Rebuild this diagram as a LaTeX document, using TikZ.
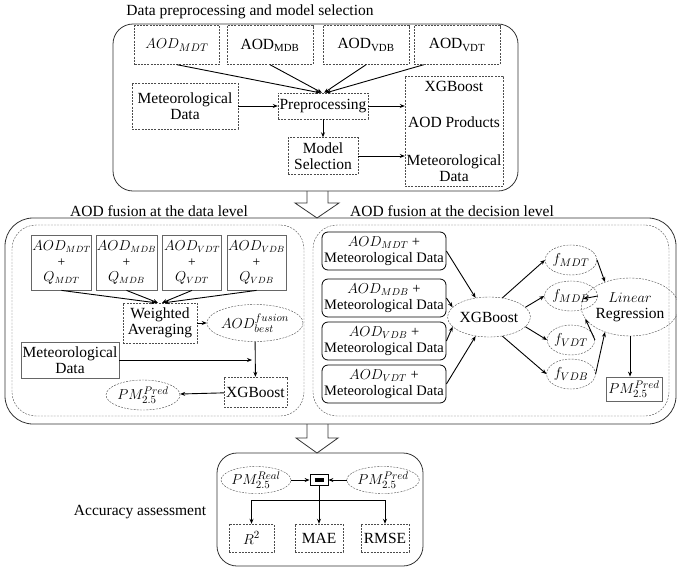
\documentclass[tikz,border=0pt]{standalone}
\usepackage{fontspec}
\setmainfont{Liberation Serif}
\usetikzlibrary{positioning, arrows.meta, shapes.geometric}

\begin{document}
\begin{tikzpicture}[
        x=1pt, y=-1pt,
        font=\fontsize{15.5}{16}\selectfont,
        dbox/.style={rectangle, draw=black!70, dash pattern=on 2pt off 1.2pt, inner sep=1pt, align=center},
        sbox/.style={rectangle, draw=black!60, line width=0.8pt, inner sep=1pt, align=center},
        rbox/.style={rectangle, draw, line width=0.8pt, rounded corners=6pt, inner sep=1pt, align=center,
            font=\fontsize{14.5}{16}\selectfont},
        qbox/.style={sbox, minimum width=59pt, minimum height=55pt, font=\fontsize{13.5}{15.5}\selectfont},
        dell/.style={ellipse, draw=black!70, dash pattern=on 2pt off 1.2pt, inner sep=0pt, align=center},
        region/.style={rectangle, draw=black!80, line width=0.8pt, rounded corners=20pt},
        subregion/.style={rectangle, draw=black!70, dash pattern=on 2pt off 1.2pt, rounded corners=24pt},
        arrow/.style={-{Stealth[length=5pt, width=4pt]}, line width=0.9pt},
        hollow/.style={draw=black!80, line width=0.8pt}
    ]
    \useasboundingbox (0,0) rectangle (677,568);

    % Data preprocessing and model selection
    \node[region, minimum width=405pt, minimum height=167pt] (prep) at (315.5,107.5) {};
    \node (prept) at (250,12) {Data preprocessing and model selection};
    \node[dbox, minimum width=85pt, minimum height=39pt] (amdt) at (177,45) {$AOD_{MDT}$};
    \node[dbox, minimum width=86pt, minimum height=39pt] (amdb) at (270,45) {AOD\textsubscript{MDB}};
    \node[dbox, minimum width=86pt, minimum height=39pt] (avdb) at (366,45) {AOD\textsubscript{VDB}};
    \node[dbox, minimum width=86pt, minimum height=39pt] (avdt) at (457,45) {AOD\textsubscript{VDT}};
    \node[dbox, minimum width=106pt, minimum height=46pt] (metp) at (185,106) {Meteorological\\Data};
    \node[dbox, minimum width=90pt, minimum height=26pt] (pre) at (323,106) {Preprocessing};
    \node[dbox, minimum width=70pt, minimum height=37pt] (msel) at (323,156) {Model\\Selection};
    \node[dbox, minimum width=98pt, minimum height=110pt] (outs) at (454,131) {};
    \node (outa) at (454,86) {XGBoost};
    \node (outb) at (454,122) {AOD Products};
    \node[align=center] (outc) at (454,168) {Meteorological\\Data};

    \draw[arrow] (amdt.south) -- ([xshift=-3pt]pre.north);
    \draw[arrow] (amdb.south) -- ([xshift=-1pt]pre.north);
    \draw[arrow] (avdb.south) -- ([xshift=1pt]pre.north);
    \draw[arrow] ([xshift=10pt]avdt.south west) -- ([xshift=3pt]pre.north);
    \draw[arrow] (metp) -- (pre);
    \draw[arrow] (pre.east) -- (pre.east -| outs.west);
    \draw[arrow] (pre) -- (msel);
    \draw[arrow] (msel.east) -- (msel.east -| outs.west);

    \draw[hollow] (307,191) -- (307,203) -- (295,203) -- (317,218) -- (339,203) -- (328,203) -- (328,191);

    % AOD fusion
    \node[region, rounded corners=28pt, minimum width=671pt, minimum height=206pt] (fus) at (340.5,321) {};
    \node[subregion, minimum width=292pt, minimum height=191pt] (dlev) at (158,320.5) {};
    \node[subregion, minimum width=356pt, minimum height=191pt] (clev) at (491,320.5) {};
    \node (dlevt) at (159,211) {AOD fusion at the data level};
    \node (clevt) at (452,211) {AOD fusion at the decision level};

    % data level
    \node[qbox] (qmdt) at (61.5,262.5) {$AOD_{MDT}$\\+\\$Q_{MDT}$};
    \node[qbox] (qmdb) at (126.5,262.5) {$AOD_{MDB}$\\+\\$Q_{MDB}$};
    \node[qbox] (qvdt) at (192,262.5) {$AOD_{VDT}$\\+\\$Q_{VDT}$};
    \node[qbox] (qvdb) at (256.5,262.5) {$AOD_{VDB}$\\+\\$Q_{VDB}$};
    \node[dbox, minimum width=74pt, minimum height=40pt] (wavg) at (160,323) {Weighted\\Averaging};
    \node[dell, minimum width=76pt, minimum height=37pt] (best) at (255,323) {$AOD_{best}^{fusion}$};
    \node[sbox, minimum width=98pt, minimum height=36pt] (metd) at (70,360) {Meteorological\\Data};
    \node[dbox, minimum width=63pt, minimum height=30pt] (xgbd) at (255.5,392) {XGBoost};
    \node[dell, minimum width=74pt, minimum height=30pt] (pmd) at (143,395) {$PM_{2.5}^{Pred}$};
    \coordinate (mj) at (best.south |- metd.east);

    \draw[arrow] (qmdt.south) -- ([xshift=-4pt]wavg.north);
    \draw[arrow] (qmdb.south) -- ([xshift=-2pt]wavg.north);
    \draw[arrow] (qvdt.south) -- ([xshift=2pt]wavg.north);
    \draw[arrow] (qvdb.south) -- ([xshift=4pt]wavg.north);
    \draw[arrow] (wavg) -- (best);
    \draw[arrow] (metd.east) -- ([xshift=-3pt]mj);
    \draw[arrow] (best) -- (xgbd);
    \draw[arrow] (xgbd) -- (pmd);

    % decision level
    \node[rbox, minimum width=124pt, minimum height=38pt] (cmdt) at (384,251) {$AOD_{MDT}$ +\\Meteorological Data};
    \node[rbox, minimum width=124pt, minimum height=38pt] (cmdb) at (384,298) {$AOD_{MDB}$ +\\Meteorological Data};
    \node[rbox, minimum width=124pt, minimum height=38pt] (cvdb) at (384,341) {$AOD_{VDB}$ +\\Meteorological Data};
    \node[rbox, minimum width=124pt, minimum height=38pt] (cvdt) at (384,384) {$AOD_{VDT}$ +\\Meteorological Data};
    \node[dell, minimum width=82pt, minimum height=40pt] (xgbc) at (489,317) {XGBoost};
    \node[dell, minimum width=42pt, minimum height=30pt] (fmdt) at (571,260) {$f_{MDT}$};
    \node[dell, minimum width=42pt, minimum height=30pt] (fmdb) at (571,296) {$f_{MDB}$};
    \node[dell, minimum width=42pt, minimum height=30pt] (fvdt) at (571,340) {$f_{VDT}$};
    \node[dell, minimum width=42pt, minimum height=30pt] (fvdb) at (571,374) {$f_{VDB}$};
    \node[dell, minimum width=78pt, minimum height=58pt] (linr) at (630,307) {$Linear$\\Regression};
    \node[sbox, minimum width=56pt, minimum height=24pt] (pmc) at (634,389) {$PM_{2.5}^{Pred}$};

    \draw[arrow] (cmdt.east) -- (xgbc.125);
    \draw[arrow] (cmdb.east) -- (xgbc.165);
    \draw[arrow] (cvdb.east) -- (xgbc.195);
    \draw[arrow] (cvdt.east) -- (xgbc.235);
    \draw[arrow] (xgbc.55) -- (fmdt.west);
    \draw[arrow] (xgbc.15) -- (fmdb.west);
    \draw[arrow] (xgbc.-15) -- (fvdt.west);
    \draw[arrow] (xgbc.-55) -- (fvdb.west);
    \draw[arrow] (fmdt.east) -- (linr.135);
    \draw[arrow] (fmdb.east) -- (linr.170);
    \draw[arrow] (fvdt.east) -- (linr.195);
    \draw[arrow] (fvdb.east) -- (linr.225);
    \draw[arrow] (linr.south) -- (linr.south |- pmc.north);

    \draw[hollow] (307,424) -- (307,438) -- (296,438) -- (317,453) -- (338,438) -- (328,438) -- (328,424);

    % Accuracy assessment
    \node[region, minimum width=206pt, minimum height=113pt] (acc) at (320,509.5) {};
    \node (acct) at (140,512) {Accuracy assessment};
    \node[dell, minimum width=61pt, minimum height=27pt] (pmr) at (256,480) {$PM_{2.5}^{Real}$};
    \node[draw, line width=0.8pt, minimum width=18pt, minimum height=11pt, inner sep=0pt] (diff) at (319,480) {\rule{9pt}{3.5pt}};
    \node[dell, minimum width=61pt, minimum height=27pt] (pmp) at (383,480) {$PM_{2.5}^{Pred}$};
    \node[dbox, minimum width=45pt, minimum height=28pt] (rsq) at (251.5,538) {$R^2$};
    \node[dbox, minimum width=48pt, minimum height=28pt] (mae) at (319,538) {MAE};
    \node[dbox, minimum width=48pt, minimum height=28pt] (rmse) at (385,538) {RMSE};
    \coordinate (split) at (319,500);

    \draw[arrow] (pmr) -- (diff);
    \draw[arrow] (pmp) -- (diff);
    \draw[line width=0.9pt] (diff.south) -- (split);
    \draw[arrow] (split) -- (mae);
    \draw[arrow] (split) -| (rsq.north);
    \draw[arrow] (split) -| (rmse.north);
\end{tikzpicture}
\end{document}
